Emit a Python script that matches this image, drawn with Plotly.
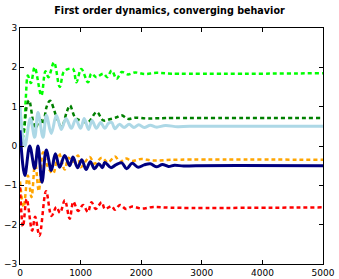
import plotly.graph_objects as go

title = "First order dynamics, converging behavior"

# turning points (x, y)
lime_x = [0, 60, 95, 130, 180, 242, 352, 420, 470, 561, 655, 720, 780, 875, 930, 1012, 1122, 1177, 1260, 1375, 1440, 1512, 1595, 1677, 1780, 1900, 2050, 2250, 2500, 5000]
lime_y = [0.0, 0.3, 1.2, 1.79, 1.6, 2.0, 1.28, 1.9, 1.75, 2.13, 1.5, 1.88, 1.95, 1.96, 1.62, 1.96, 1.62, 1.84, 1.75, 1.84, 1.75, 1.92, 1.71, 1.88, 1.82, 1.87, 1.83, 1.86, 1.84, 1.85]

green_x = [0, 55, 110, 150, 220, 260, 330, 380, 440, 495, 605, 688, 770, 825, 907, 990, 1120, 1265, 1375, 1480, 1595, 1677, 1780, 1900, 2100, 2400, 5000]
green_y = [0.2, 0.35, 1.0, 1.16, 0.6, 0.45, 0.75, 0.55, 1.0, 1.15, 0.73, 0.48, 0.86, 1.03, 0.73, 0.65, 0.6, 0.86, 0.65, 0.68, 0.73, 0.78, 0.69, 0.72, 0.7, 0.71, 0.71]

lightblue_x = [0, 80, 170, 242, 297, 380, 435, 517, 600, 682, 760, 847, 920, 1000, 1060, 1130, 1190, 1260, 1330, 1400, 1460, 1512, 1567, 1640, 1720, 1800, 1880, 1960, 2050, 2150, 2250, 2400, 2600, 2800, 5000]
lightblue_y = [1.0, 0.0, 0.7, 0.22, 0.85, 0.22, 0.78, 0.32, 0.78, 0.42, 0.7, 0.45, 0.68, 0.45, 0.7, 0.42, 0.65, 0.45, 0.6, 0.45, 0.58, 0.6, 0.44, 0.55, 0.47, 0.55, 0.47, 0.54, 0.47, 0.53, 0.48, 0.52, 0.49, 0.5, 0.5]

orange_x = [0, 60, 130, 190, 250, 310, 380, 450, 545, 640, 737, 800, 875, 957, 1000, 1150, 1230, 1350, 1450, 1567, 1650, 1750, 1850, 2000, 2200, 2500, 5000]
orange_y = [-0.9, -1.55, -0.75, -1.3, -0.4, -1.15, -0.16, -0.5, -0.7, -0.18, -0.6, -0.3, -0.4, -0.24, -0.54, -0.28, -0.45, -0.3, -0.42, -0.27, -0.4, -0.32, -0.38, -0.33, -0.37, -0.35, -0.35]

navy_x = [0, 80, 160, 242, 297, 363, 434, 517, 583, 655, 737, 820, 875, 950, 1020, 1090, 1160, 1230, 1300, 1360, 1400, 1500, 1580, 1680, 1760, 1850, 1950, 2050, 2150, 2250, 2350, 2450, 2550, 2700, 2900, 5000]
navy_y = [0.4, -0.75, 0.0, -0.57, 0.0, -0.92, -0.1, -0.62, -0.2, -0.54, -0.24, -0.5, -0.28, -0.55, -0.35, -0.6, -0.4, -0.58, -0.45, -0.55, -0.42, -0.55, -0.48, -0.43, -0.58, -0.44, -0.54, -0.48, -0.45, -0.53, -0.47, -0.52, -0.49, -0.51, -0.5, -0.5]

red_x = [0, 50, 110, 200, 250, 320, 430, 520, 600, 660, 740, 820, 880, 960, 1040, 1120, 1180, 1250, 1347, 1402, 1512, 1567, 1650, 1750, 1850, 2000, 2200, 2500, 5000]
red_y = [-1.05, -2.05, -1.35, -2.15, -1.8, -2.28, -1.15, -1.78, -1.55, -1.7, -1.38, -1.85, -1.42, -1.65, -1.5, -1.68, -1.43, -1.6, -1.43, -1.6, -1.53, -1.62, -1.5, -1.6, -1.54, -1.59, -1.55, -1.57, -1.56]

x_ticks = [0, 1000, 2000, 3000, 4000, 5000]
y_ticks = [-3, -2, -1, 0, 1, 2, 3]

series = [
    (lime_x, lime_y, "#00ff00", "dash"),
    (green_x, green_y, "#008000", "dash"),
    (lightblue_x, lightblue_y, "#add8e6", "solid"),
    (orange_x, orange_y, "#ffa500", "dash"),
    (navy_x, navy_y, "#000080", "solid"),
    (red_x, red_y, "#ff0000", "dash"),
]

fig = go.Figure()
for xs, ys, col, style in series:
    fig.add_trace(go.Scatter(
        x=xs, y=ys, mode="lines",
        line=dict(color=col, width=3 if style == "solid" else 2.5,
                  dash="solid" if style == "solid" else "4px,3px",
                  shape="spline", smoothing=1.0),
        showlegend=False, hoverinfo="skip"))

axis_common = dict(showgrid=False, zeroline=False, showline=True, linecolor="black",
                   linewidth=1, mirror="allticks", ticks="inside", ticklen=4,
                   tickcolor="black", automargin=False,
                   tickfont=dict(family="DejaVu Sans", size=9, color="black"))

fig.update_xaxes(range=[0, 5000], tickvals=x_ticks, ticktext=[str(v) for v in x_ticks], **axis_common)
fig.update_yaxes(range=[-3, 3], tickvals=y_ticks, ticktext=[("\u2212" + str(-v)) if v < 0 else str(v) for v in y_ticks], **axis_common)

fig.update_layout(
    width=339, height=279,
    margin=dict(l=20, r=16, t=28, b=15, autoexpand=False),
    paper_bgcolor="white", plot_bgcolor="white",
    title=dict(text="<b>" + title + "</b>", x=0.5, xanchor="center", y=0.962, yanchor="middle",
               font=dict(family="DejaVu Sans", size=9.6, color="black")),
)

fig.write_html("out.html", config={"displayModeBar": False, "staticPlot": True},
               post_script="document.body.style.margin='0';document.body.style.overflow='hidden';")
